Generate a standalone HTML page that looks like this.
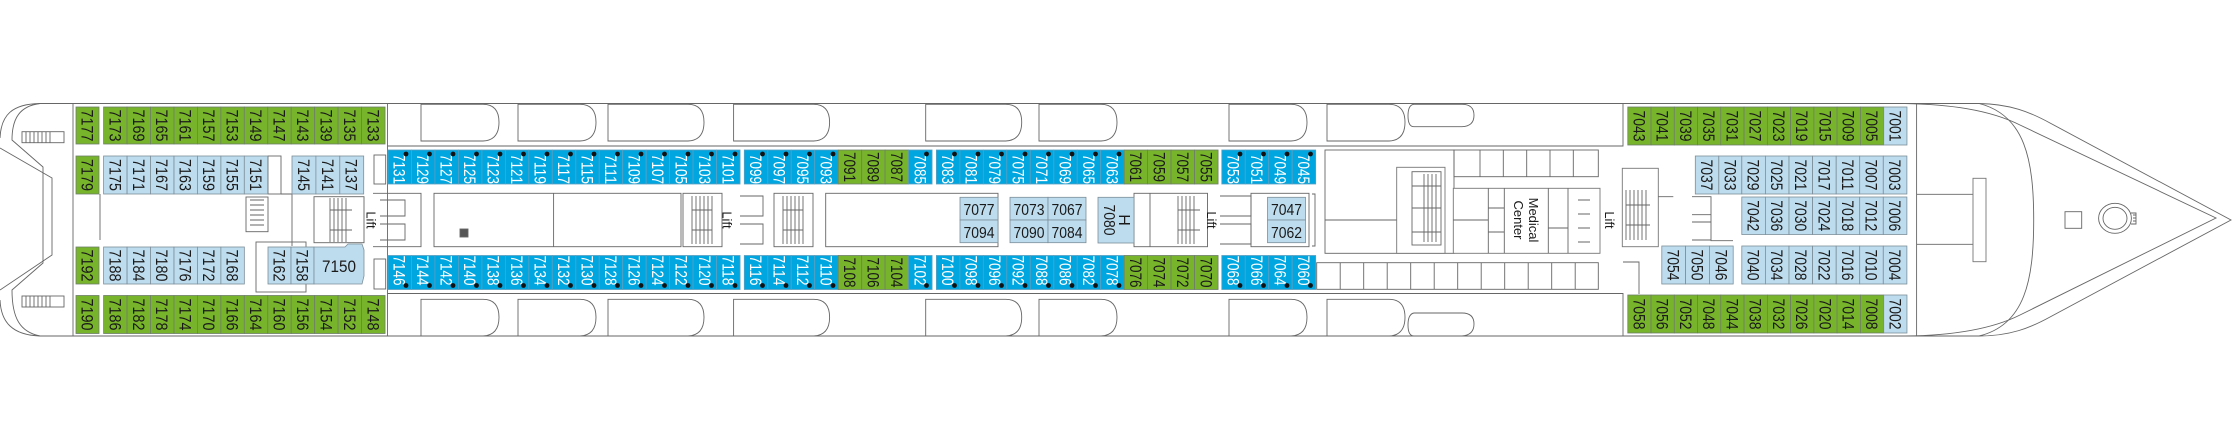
<!DOCTYPE html>
<html><head><meta charset="utf-8"><style>
html,body{margin:0;padding:0;background:#fff;}
svg{display:block;}
.g{fill:#78b42b;stroke:#6f7f6a;stroke-width:.8}
.l{fill:#bddcee;stroke:#7d8f9a;stroke-width:.8}
.b{fill:#00a6e0;stroke:#5a9fc0;stroke-width:.8}
.o{fill:none;stroke:#666;stroke-width:.9}
.f{fill:#fff;stroke:#777;stroke-width:.9}
text{font-family:"Liberation Sans",sans-serif;font-size:17px;text-anchor:middle;fill:#1a1a1a}
.w{fill:#fff}
.h{font-size:16px}
.s{font-size:13px}
</style></head><body>
<svg width="2232" height="440" viewBox="0 0 2232 440" xmlns="http://www.w3.org/2000/svg">
<path class="o" d="M40,103.5 L1979,103.5 M40,336 L1979,336"/>
<path class="o" d="M40,103.5 C12,104 1,115 0,138 M0,148 L52,178 L52,255 L0,290 M0,300 C1,322 12,335 40,336"/>
<path class="o" d="M40,103.5 C20,106 12,118 12,140 L43,167 L43,263 L12,290 C12,318 20,332 40,336"/>
<rect class="o" x="73" y="103.5" width="314.5" height="232.5"/>
<g class="o"><rect x="22" y="131.7" width="42" height="11"/><rect x="22" y="296" width="42" height="11"/>
<path d="M26,131.7v11M30,131.7v11M34,131.7v11M38,131.7v11M42,131.7v11M46,131.7v11M50,131.7v11M26,296v11M30,296v11M34,296v11M38,296v11M42,296v11M46,296v11M50,296v11"/></g>
<path class="o" d="M1916.6,103.5 L1979,103.5 C2010,104 2030,112 2050,123 L2231,220 L2050,317 C2030,328 2010,336 1979,336 L1916.6,336"/>
<path class="o" d="M1900,103.5 C1950,104 1990,110 2020,125 L2216,218 L2020,315 C1990,330 1950,336 1900,336"/>
<path class="o" d="M1979,103.5 C2025,115 2033.7,160 2033.7,220 C2033.7,280 2025,325 1979,336"/>
<path class="o" d="M1916.6,103.5 V336 M1916.6,194.3 H1979 M1916.6,244.3 H1979"/>
<rect class="f" x="1973" y="178.3" width="13" height="83.4"/>
<rect class="o" x="2065" y="211.7" width="16.7" height="16.6"/>
<ellipse class="o" cx="2115" cy="218.3" rx="16.4" ry="15"/><ellipse class="o" cx="2115" cy="218.3" rx="12" ry="11"/>
<path class="o" d="M2131,213h5v11h-5 M2133,215h3M2133,218h3M2133,221h3"/>
<path class="o" d="M387.5,146 H1623 V103.5 M387.5,293.5 H1623 V336"/>
<g class="o">
<path d="M421,104.3 h62 q16,0 16,18 q0,18 -16,18.7 h-62 z"/><path d="M518,104.3 h62 q16,0 16,18 q0,18 -16,18.7 h-62 z"/>
<path d="M608,104.3 h80 q16,0 16,18 q0,18 -16,18.7 h-80 z"/><path d="M733.6,104.3 h80 q16,0 16,18 q0,18 -16,18.7 h-80 z"/>
<path d="M925.7,104.3 h80 q16,0 16,18 q0,18 -16,18.7 h-80 z"/><path d="M1039,104.3 h62 q16,0 16,18 q0,18 -16,18.7 h-62 z"/>
<path d="M1229,104.3 h62 q16,0 16,18 q0,18 -16,18.7 h-62 z"/><path d="M1327,104.3 h62 q16,0 16,18 q0,18 -16,18.7 h-62 z"/>
<path d="M1414,104.3 h48 q12,0 12,11 q0,11 -12,11.4 h-48 q-6,0 -6,-11 q0,-11 6,-11.4 z"/>
<path d="M421,299.3 h62 q16,0 16,18 q0,18 -16,18.7 h-62 z"/><path d="M518,299.3 h62 q16,0 16,18 q0,18 -16,18.7 h-62 z"/>
<path d="M608,299.3 h80 q16,0 16,18 q0,18 -16,18.7 h-80 z"/><path d="M733.6,299.3 h80 q16,0 16,18 q0,18 -16,18.7 h-80 z"/>
<path d="M925.7,299.3 h80 q16,0 16,18 q0,18 -16,18.7 h-80 z"/><path d="M1039,299.3 h62 q16,0 16,18 q0,18 -16,18.7 h-62 z"/>
<path d="M1229,299.3 h62 q16,0 16,18 q0,18 -16,18.7 h-62 z"/><path d="M1327,299.3 h62 q16,0 16,18 q0,18 -16,18.7 h-62 z"/>
<path d="M1414,313 h48 q12,0 12,11 q0,11 -12,12 h-48 q-6,0 -6,-11 q0,-11 6,-12 z"/>
</g>
<g class="o">
<rect x="268" y="156" width="13" height="38"/>
<rect x="374" y="155" width="11.7" height="29"/><rect x="374" y="259" width="11.7" height="30"/>
<rect x="246" y="197" width="22" height="34.7"/>
<path d="M250,200h14M250,205h14M250,210h14M250,215h14M250,220h14M250,225h14"/>
<rect x="314" y="196.7" width="50" height="46"/>
<path d="M330,198v44M334,198v44M338,198v44M342,198v44M346,198v44M330,210h22M330,230h22"/>
<path d="M373,193.3 h48 v53.4 h-48 M380,200h25v16h-25M380,224h25v16h-25"/>
<path d="M100,194v46M292,194v52M281,194h11"/>
<rect x="434" y="193.3" width="247" height="53.4"/>
<path d="M553.6,193.3v53.4"/>
<rect x="460" y="229" width="8" height="8" fill="#555"/>
<rect x="683" y="193.3" width="39" height="53.4"/>
<path d="M692,196v48M696,196v48M700,196v48M704,196v48M708,196v48M712,196v48M692,210h20M692,230h20"/>
<path d="M740,196h23v20h-23M740,224h23v20h-23"/>
<rect x="774" y="193.3" width="39" height="53.4"/>
<path d="M783,196v48M787,196v48M791,196v48M795,196v48M799,196v48M803,196v48M783,210h20M783,230h20"/>
<rect x="825.7" y="193.3" width="172.3" height="53.4"/>
<rect x="1134" y="193.3" width="73.5" height="53.4"/>
<path d="M1178,196v48M1182,196v48M1186,196v48M1190,196v48M1194,196v48M1178,210h22M1178,230h22M1150,193.3v53.4"/>
<path d="M1220,196h31v20h-31M1220,224h31v20h-31"/>
<rect x="1251" y="193.3" width="58" height="53.4"/>
<path d="M1312,194h3v52h-3"/>
</g>
<g class="o">
<rect x="1325" y="150" width="129" height="103.3"/>
<path d="M1325,220h71.7"/>
<rect class="f" x="1396.7" y="167.3" width="48.3" height="86"/>
<rect x="1412" y="171.7" width="29" height="73.3"/>
<path d="M1424,174v68M1428,174v68M1432,174v68M1436,174v68M1412,186h29M1412,208h29M1412,232h29"/>
<rect x="1454" y="150" width="144.3" height="26.7"/>
<path d="M1480,150v26.7M1503.3,150v26.7M1526.7,150v26.7M1550,150v26.7M1573.3,150v26.7"/>
<rect class="f" x="1453.3" y="188.3" width="146.7" height="65"/>
<path d="M1488.3,188.3v65M1504.3,188.3v65M1548.3,188.3v65M1453.3,220h35M1488.3,208h16M1488.3,232h16M1548.3,228h20M1568,188.3v65"/>
<path d="M1578,200h12M1578,214h12M1578,228h12M1578,242h12"/>
<rect x="1316.7" y="262.7" width="281.6" height="26.6"/>
<path d="M1340.2,262.7v26.6M1363.7,262.7v26.6M1387.2,262.7v26.6M1410.7,262.7v26.6M1434.2,262.7v26.6M1457.7,262.7v26.6M1481.2,262.7v26.6M1504.7,262.7v26.6M1528.2,262.7v26.6M1551.7,262.7v26.6M1575.2,262.7v26.6"/>
<rect class="f" x="1622.3" y="168.3" width="36" height="78.4"/>
<path d="M1626,190v50M1630,190v50M1634,190v50M1638,190v50M1642,190v50M1646,190v50M1626,205h24M1626,225h24"/>
<path d="M1658.3,196.7h15M1692,196.7h19v18h-19M1692,222h19v18h-19M1711,196.7v44h22"/>
<path d="M1623,262h16v32"/>
</g>
<g>
<rect class="g" x="76" y="107" width="23" height="37"/><text transform="translate(87.5,125.5) rotate(90)" y="6" textLength="32" lengthAdjust="spacingAndGlyphs">7177</text>
<rect class="g" x="103.6" y="107" width="23.45" height="37"/><text transform="translate(115.3,125.5) rotate(90)" y="6" textLength="32" lengthAdjust="spacingAndGlyphs">7173</text>
<rect class="g" x="127.1" y="107" width="23.45" height="37"/><text transform="translate(138.8,125.5) rotate(90)" y="6" textLength="32" lengthAdjust="spacingAndGlyphs">7169</text>
<rect class="g" x="150.5" y="107" width="23.45" height="37"/><text transform="translate(162.2,125.5) rotate(90)" y="6" textLength="32" lengthAdjust="spacingAndGlyphs">7165</text>
<rect class="g" x="174" y="107" width="23.45" height="37"/><text transform="translate(185.7,125.5) rotate(90)" y="6" textLength="32" lengthAdjust="spacingAndGlyphs">7161</text>
<rect class="g" x="197.4" y="107" width="23.45" height="37"/><text transform="translate(209.1,125.5) rotate(90)" y="6" textLength="32" lengthAdjust="spacingAndGlyphs">7157</text>
<rect class="g" x="220.9" y="107" width="23.45" height="37"/><text transform="translate(232.6,125.5) rotate(90)" y="6" textLength="32" lengthAdjust="spacingAndGlyphs">7153</text>
<rect class="g" x="244.3" y="107" width="23.45" height="37"/><text transform="translate(256,125.5) rotate(90)" y="6" textLength="32" lengthAdjust="spacingAndGlyphs">7149</text>
<rect class="g" x="267.8" y="107" width="23.45" height="37"/><text transform="translate(279.5,125.5) rotate(90)" y="6" textLength="32" lengthAdjust="spacingAndGlyphs">7147</text>
<rect class="g" x="291.2" y="107" width="23.45" height="37"/><text transform="translate(302.9,125.5) rotate(90)" y="6" textLength="32" lengthAdjust="spacingAndGlyphs">7143</text>
<rect class="g" x="314.7" y="107" width="23.45" height="37"/><text transform="translate(326.4,125.5) rotate(90)" y="6" textLength="32" lengthAdjust="spacingAndGlyphs">7139</text>
<rect class="g" x="338.1" y="107" width="23.45" height="37"/><text transform="translate(349.8,125.5) rotate(90)" y="6" textLength="32" lengthAdjust="spacingAndGlyphs">7135</text>
<rect class="g" x="361.6" y="107" width="23.45" height="37"/><text transform="translate(373.3,125.5) rotate(90)" y="6" textLength="32" lengthAdjust="spacingAndGlyphs">7133</text>

<rect class="g" x="76" y="156" width="23" height="38"/><text transform="translate(87.5,175) rotate(90)" y="6" textLength="32" lengthAdjust="spacingAndGlyphs">7179</text>
<rect class="l" x="103.6" y="156" width="23.45" height="38"/><text transform="translate(115.3,175) rotate(90)" y="6" textLength="32" lengthAdjust="spacingAndGlyphs">7175</text>
<rect class="l" x="127.1" y="156" width="23.45" height="38"/><text transform="translate(138.8,175) rotate(90)" y="6" textLength="32" lengthAdjust="spacingAndGlyphs">7171</text>
<rect class="l" x="150.5" y="156" width="23.45" height="38"/><text transform="translate(162.2,175) rotate(90)" y="6" textLength="32" lengthAdjust="spacingAndGlyphs">7167</text>
<rect class="l" x="174" y="156" width="23.45" height="38"/><text transform="translate(185.7,175) rotate(90)" y="6" textLength="32" lengthAdjust="spacingAndGlyphs">7163</text>
<rect class="l" x="197.4" y="156" width="23.45" height="38"/><text transform="translate(209.1,175) rotate(90)" y="6" textLength="32" lengthAdjust="spacingAndGlyphs">7159</text>
<rect class="l" x="220.9" y="156" width="23.45" height="38"/><text transform="translate(232.6,175) rotate(90)" y="6" textLength="32" lengthAdjust="spacingAndGlyphs">7155</text>
<rect class="l" x="244.3" y="156" width="23.45" height="38"/><text transform="translate(256,175) rotate(90)" y="6" textLength="32" lengthAdjust="spacingAndGlyphs">7151</text>
<rect class="l" x="292" y="156" width="23.9" height="38"/><text transform="translate(304,175) rotate(90)" y="6" textLength="32" lengthAdjust="spacingAndGlyphs">7145</text>
<rect class="l" x="315.9" y="156" width="23.9" height="38"/><text transform="translate(327.9,175) rotate(90)" y="6" textLength="32" lengthAdjust="spacingAndGlyphs">7141</text>
<rect class="l" x="339.8" y="156" width="23.9" height="38"/><text transform="translate(351.7,175) rotate(90)" y="6" textLength="32" lengthAdjust="spacingAndGlyphs">7137</text>

<rect class="g" x="76" y="247" width="23" height="37"/><text transform="translate(87.5,265.5) rotate(90)" y="6" textLength="32" lengthAdjust="spacingAndGlyphs">7192</text>
<rect class="l" x="103.6" y="247" width="23.45" height="37"/><text transform="translate(115.3,265.5) rotate(90)" y="6" textLength="32" lengthAdjust="spacingAndGlyphs">7188</text>
<rect class="l" x="127.1" y="247" width="23.45" height="37"/><text transform="translate(138.8,265.5) rotate(90)" y="6" textLength="32" lengthAdjust="spacingAndGlyphs">7184</text>
<rect class="l" x="150.5" y="247" width="23.45" height="37"/><text transform="translate(162.2,265.5) rotate(90)" y="6" textLength="32" lengthAdjust="spacingAndGlyphs">7180</text>
<rect class="l" x="174" y="247" width="23.45" height="37"/><text transform="translate(185.7,265.5) rotate(90)" y="6" textLength="32" lengthAdjust="spacingAndGlyphs">7176</text>
<rect class="l" x="197.4" y="247" width="23.45" height="37"/><text transform="translate(209.1,265.5) rotate(90)" y="6" textLength="32" lengthAdjust="spacingAndGlyphs">7172</text>
<rect class="l" x="220.9" y="247" width="23.45" height="37"/><text transform="translate(232.6,265.5) rotate(90)" y="6" textLength="32" lengthAdjust="spacingAndGlyphs">7168</text>
<rect class="o" x="256" y="242" width="50" height="50"/>
<rect class="l" x="268" y="247" width="23" height="37"/><text transform="translate(279.5,265.5) rotate(90)" y="6" textLength="32" lengthAdjust="spacingAndGlyphs">7162</text>
<rect class="l" x="291" y="247" width="23" height="37"/><text transform="translate(302.5,265.5) rotate(90)" y="6" textLength="32" lengthAdjust="spacingAndGlyphs">7158</text>
<path class="l" d="M314,247 H345 L348,244 H362 L364,250 V276 L362,284 H314 Z"/><text x="339" y="272" textLength="34" lengthAdjust="spacingAndGlyphs">7150</text>

<rect class="g" x="76" y="295.5" width="23" height="38"/><text transform="translate(87.5,314.5) rotate(90)" y="6" textLength="32" lengthAdjust="spacingAndGlyphs">7190</text>
<rect class="g" x="103.6" y="295.5" width="23.45" height="38"/><text transform="translate(115.3,314.5) rotate(90)" y="6" textLength="32" lengthAdjust="spacingAndGlyphs">7186</text>
<rect class="g" x="127.1" y="295.5" width="23.45" height="38"/><text transform="translate(138.8,314.5) rotate(90)" y="6" textLength="32" lengthAdjust="spacingAndGlyphs">7182</text>
<rect class="g" x="150.5" y="295.5" width="23.45" height="38"/><text transform="translate(162.2,314.5) rotate(90)" y="6" textLength="32" lengthAdjust="spacingAndGlyphs">7178</text>
<rect class="g" x="174" y="295.5" width="23.45" height="38"/><text transform="translate(185.7,314.5) rotate(90)" y="6" textLength="32" lengthAdjust="spacingAndGlyphs">7174</text>
<rect class="g" x="197.4" y="295.5" width="23.45" height="38"/><text transform="translate(209.1,314.5) rotate(90)" y="6" textLength="32" lengthAdjust="spacingAndGlyphs">7170</text>
<rect class="g" x="220.9" y="295.5" width="23.45" height="38"/><text transform="translate(232.6,314.5) rotate(90)" y="6" textLength="32" lengthAdjust="spacingAndGlyphs">7166</text>
<rect class="g" x="244.3" y="295.5" width="23.45" height="38"/><text transform="translate(256,314.5) rotate(90)" y="6" textLength="32" lengthAdjust="spacingAndGlyphs">7164</text>
<rect class="g" x="267.8" y="295.5" width="23.45" height="38"/><text transform="translate(279.5,314.5) rotate(90)" y="6" textLength="32" lengthAdjust="spacingAndGlyphs">7160</text>
<rect class="g" x="291.2" y="295.5" width="23.45" height="38"/><text transform="translate(302.9,314.5) rotate(90)" y="6" textLength="32" lengthAdjust="spacingAndGlyphs">7156</text>
<rect class="g" x="314.7" y="295.5" width="23.45" height="38"/><text transform="translate(326.4,314.5) rotate(90)" y="6" textLength="32" lengthAdjust="spacingAndGlyphs">7154</text>
<rect class="g" x="338.1" y="295.5" width="23.45" height="38"/><text transform="translate(349.8,314.5) rotate(90)" y="6" textLength="32" lengthAdjust="spacingAndGlyphs">7152</text>
<rect class="g" x="361.6" y="295.5" width="23.45" height="38"/><text transform="translate(373.3,314.5) rotate(90)" y="6" textLength="32" lengthAdjust="spacingAndGlyphs">7148</text>
</g>
<text transform="translate(371.4,220) rotate(90)" y="5" class="s">Lift</text>
<text transform="translate(727.5,220) rotate(90)" y="5" class="s">Lift</text>
<text transform="translate(1212,220) rotate(90)" y="5" class="s">Lift</text>
<text transform="translate(1610,220) rotate(90)" y="5" class="s">Lift</text>
<text transform="translate(1526,220) rotate(90)" class="s"><tspan x="0" y="-3">Medical</tspan><tspan x="0" y="12">Center</tspan></text>

<g>
<rect class="b" x="388" y="150" width="23.47" height="34"/><text class="w" transform="translate(399.7,169) rotate(90)" y="6" textLength="30" lengthAdjust="spacingAndGlyphs">7131</text>
<rect class="b" x="411.5" y="150" width="23.47" height="34"/><text class="w" transform="translate(423.2,169) rotate(90)" y="6" textLength="30" lengthAdjust="spacingAndGlyphs">7129</text>
<rect class="b" x="434.9" y="150" width="23.47" height="34"/><text class="w" transform="translate(446.6,169) rotate(90)" y="6" textLength="30" lengthAdjust="spacingAndGlyphs">7127</text>
<rect class="b" x="458.4" y="150" width="23.47" height="34"/><text class="w" transform="translate(470.1,169) rotate(90)" y="6" textLength="30" lengthAdjust="spacingAndGlyphs">7125</text>
<rect class="b" x="481.9" y="150" width="23.47" height="34"/><text class="w" transform="translate(493.6,169) rotate(90)" y="6" textLength="30" lengthAdjust="spacingAndGlyphs">7123</text>
<rect class="b" x="505.4" y="150" width="23.47" height="34"/><text class="w" transform="translate(517.1,169) rotate(90)" y="6" textLength="30" lengthAdjust="spacingAndGlyphs">7121</text>
<rect class="b" x="528.8" y="150" width="23.47" height="34"/><text class="w" transform="translate(540.5,169) rotate(90)" y="6" textLength="30" lengthAdjust="spacingAndGlyphs">7119</text>
<rect class="b" x="552.3" y="150" width="23.47" height="34"/><text class="w" transform="translate(564,169) rotate(90)" y="6" textLength="30" lengthAdjust="spacingAndGlyphs">7117</text>
<rect class="b" x="575.8" y="150" width="23.47" height="34"/><text class="w" transform="translate(587.5,169) rotate(90)" y="6" textLength="30" lengthAdjust="spacingAndGlyphs">7115</text>
<rect class="b" x="599.2" y="150" width="23.47" height="34"/><text class="w" transform="translate(610.9,169) rotate(90)" y="6" textLength="30" lengthAdjust="spacingAndGlyphs">7111</text>
<rect class="b" x="622.7" y="150" width="23.47" height="34"/><text class="w" transform="translate(634.4,169) rotate(90)" y="6" textLength="30" lengthAdjust="spacingAndGlyphs">7109</text>
<rect class="b" x="646.2" y="150" width="23.47" height="34"/><text class="w" transform="translate(657.9,169) rotate(90)" y="6" textLength="30" lengthAdjust="spacingAndGlyphs">7107</text>
<rect class="b" x="669.6" y="150" width="23.47" height="34"/><text class="w" transform="translate(681.3,169) rotate(90)" y="6" textLength="30" lengthAdjust="spacingAndGlyphs">7105</text>
<rect class="b" x="693.1" y="150" width="23.47" height="34"/><text class="w" transform="translate(704.8,169) rotate(90)" y="6" textLength="30" lengthAdjust="spacingAndGlyphs">7103</text>
<rect class="b" x="716.6" y="150" width="23.47" height="34"/><text class="w" transform="translate(728.3,169) rotate(90)" y="6" textLength="30" lengthAdjust="spacingAndGlyphs">7101</text>
<rect class="b" x="744.3" y="150" width="23.47" height="34"/><text class="w" transform="translate(756,169) rotate(90)" y="6" textLength="30" lengthAdjust="spacingAndGlyphs">7099</text>
<rect class="b" x="767.8" y="150" width="23.47" height="34"/><text class="w" transform="translate(779.5,169) rotate(90)" y="6" textLength="30" lengthAdjust="spacingAndGlyphs">7097</text>
<rect class="b" x="791.2" y="150" width="23.47" height="34"/><text class="w" transform="translate(802.9,169) rotate(90)" y="6" textLength="30" lengthAdjust="spacingAndGlyphs">7095</text>
<rect class="b" x="814.7" y="150" width="23.47" height="34"/><text class="w" transform="translate(826.4,169) rotate(90)" y="6" textLength="30" lengthAdjust="spacingAndGlyphs">7093</text>
<rect class="g" x="838.2" y="150" width="23.47" height="34"/><text transform="translate(849.9,167) rotate(90)" y="6" textLength="30" lengthAdjust="spacingAndGlyphs">7091</text>
<rect class="g" x="861.7" y="150" width="23.47" height="34"/><text transform="translate(873.4,167) rotate(90)" y="6" textLength="30" lengthAdjust="spacingAndGlyphs">7089</text>
<rect class="g" x="885.1" y="150" width="23.47" height="34"/><text transform="translate(896.8,167) rotate(90)" y="6" textLength="30" lengthAdjust="spacingAndGlyphs">7087</text>
<rect class="b" x="908.6" y="150" width="23.47" height="34"/><text class="w" transform="translate(920.3,169) rotate(90)" y="6" textLength="30" lengthAdjust="spacingAndGlyphs">7085</text>
<rect class="b" x="936.4" y="150" width="23.47" height="34"/><text class="w" transform="translate(948.1,169) rotate(90)" y="6" textLength="30" lengthAdjust="spacingAndGlyphs">7083</text>
<rect class="b" x="959.9" y="150" width="23.47" height="34"/><text class="w" transform="translate(971.6,169) rotate(90)" y="6" textLength="30" lengthAdjust="spacingAndGlyphs">7081</text>
<rect class="b" x="983.3" y="150" width="23.47" height="34"/><text class="w" transform="translate(995,169) rotate(90)" y="6" textLength="30" lengthAdjust="spacingAndGlyphs">7079</text>
<rect class="b" x="1006.8" y="150" width="23.47" height="34"/><text class="w" transform="translate(1018.5,169) rotate(90)" y="6" textLength="30" lengthAdjust="spacingAndGlyphs">7075</text>
<rect class="b" x="1030.3" y="150" width="23.47" height="34"/><text class="w" transform="translate(1042,169) rotate(90)" y="6" textLength="30" lengthAdjust="spacingAndGlyphs">7071</text>
<rect class="b" x="1053.8" y="150" width="23.47" height="34"/><text class="w" transform="translate(1065.5,169) rotate(90)" y="6" textLength="30" lengthAdjust="spacingAndGlyphs">7069</text>
<rect class="b" x="1077.2" y="150" width="23.47" height="34"/><text class="w" transform="translate(1088.9,169) rotate(90)" y="6" textLength="30" lengthAdjust="spacingAndGlyphs">7065</text>
<rect class="b" x="1100.7" y="150" width="23.47" height="34"/><text class="w" transform="translate(1112.4,169) rotate(90)" y="6" textLength="30" lengthAdjust="spacingAndGlyphs">7063</text>
<rect class="g" x="1124.2" y="150" width="23.47" height="34"/><text transform="translate(1135.9,167) rotate(90)" y="6" textLength="30" lengthAdjust="spacingAndGlyphs">7061</text>
<rect class="g" x="1147.6" y="150" width="23.47" height="34"/><text transform="translate(1159.3,167) rotate(90)" y="6" textLength="30" lengthAdjust="spacingAndGlyphs">7059</text>
<rect class="g" x="1171.1" y="150" width="23.47" height="34"/><text transform="translate(1182.8,167) rotate(90)" y="6" textLength="30" lengthAdjust="spacingAndGlyphs">7057</text>
<rect class="g" x="1194.6" y="150" width="23.47" height="34"/><text transform="translate(1206.3,167) rotate(90)" y="6" textLength="30" lengthAdjust="spacingAndGlyphs">7055</text>
<rect class="b" x="1221.8" y="150" width="23.47" height="34"/><text class="w" transform="translate(1233.5,169) rotate(90)" y="6" textLength="30" lengthAdjust="spacingAndGlyphs">7053</text>
<rect class="b" x="1245.3" y="150" width="23.47" height="34"/><text class="w" transform="translate(1257,169) rotate(90)" y="6" textLength="30" lengthAdjust="spacingAndGlyphs">7051</text>
<rect class="b" x="1268.7" y="150" width="23.47" height="34"/><text class="w" transform="translate(1280.4,169) rotate(90)" y="6" textLength="30" lengthAdjust="spacingAndGlyphs">7049</text>
<rect class="b" x="1292.2" y="150" width="23.47" height="34"/><text class="w" transform="translate(1303.9,169) rotate(90)" y="6" textLength="30" lengthAdjust="spacingAndGlyphs">7045</text>
</g>
<g>
<rect class="b" x="388" y="255.5" width="23.47" height="34"/><text class="w" transform="translate(399.7,270.5) rotate(90)" y="6" textLength="30" lengthAdjust="spacingAndGlyphs">7146</text>
<rect class="b" x="411.5" y="255.5" width="23.47" height="34"/><text class="w" transform="translate(423.2,270.5) rotate(90)" y="6" textLength="30" lengthAdjust="spacingAndGlyphs">7144</text>
<rect class="b" x="434.9" y="255.5" width="23.47" height="34"/><text class="w" transform="translate(446.6,270.5) rotate(90)" y="6" textLength="30" lengthAdjust="spacingAndGlyphs">7142</text>
<rect class="b" x="458.4" y="255.5" width="23.47" height="34"/><text class="w" transform="translate(470.1,270.5) rotate(90)" y="6" textLength="30" lengthAdjust="spacingAndGlyphs">7140</text>
<rect class="b" x="481.9" y="255.5" width="23.47" height="34"/><text class="w" transform="translate(493.6,270.5) rotate(90)" y="6" textLength="30" lengthAdjust="spacingAndGlyphs">7138</text>
<rect class="b" x="505.4" y="255.5" width="23.47" height="34"/><text class="w" transform="translate(517.1,270.5) rotate(90)" y="6" textLength="30" lengthAdjust="spacingAndGlyphs">7136</text>
<rect class="b" x="528.8" y="255.5" width="23.47" height="34"/><text class="w" transform="translate(540.5,270.5) rotate(90)" y="6" textLength="30" lengthAdjust="spacingAndGlyphs">7134</text>
<rect class="b" x="552.3" y="255.5" width="23.47" height="34"/><text class="w" transform="translate(564,270.5) rotate(90)" y="6" textLength="30" lengthAdjust="spacingAndGlyphs">7132</text>
<rect class="b" x="575.8" y="255.5" width="23.47" height="34"/><text class="w" transform="translate(587.5,270.5) rotate(90)" y="6" textLength="30" lengthAdjust="spacingAndGlyphs">7130</text>
<rect class="b" x="599.2" y="255.5" width="23.47" height="34"/><text class="w" transform="translate(610.9,270.5) rotate(90)" y="6" textLength="30" lengthAdjust="spacingAndGlyphs">7128</text>
<rect class="b" x="622.7" y="255.5" width="23.47" height="34"/><text class="w" transform="translate(634.4,270.5) rotate(90)" y="6" textLength="30" lengthAdjust="spacingAndGlyphs">7126</text>
<rect class="b" x="646.2" y="255.5" width="23.47" height="34"/><text class="w" transform="translate(657.9,270.5) rotate(90)" y="6" textLength="30" lengthAdjust="spacingAndGlyphs">7124</text>
<rect class="b" x="669.6" y="255.5" width="23.47" height="34"/><text class="w" transform="translate(681.3,270.5) rotate(90)" y="6" textLength="30" lengthAdjust="spacingAndGlyphs">7122</text>
<rect class="b" x="693.1" y="255.5" width="23.47" height="34"/><text class="w" transform="translate(704.8,270.5) rotate(90)" y="6" textLength="30" lengthAdjust="spacingAndGlyphs">7120</text>
<rect class="b" x="716.6" y="255.5" width="23.47" height="34"/><text class="w" transform="translate(728.3,270.5) rotate(90)" y="6" textLength="30" lengthAdjust="spacingAndGlyphs">7118</text>
<rect class="b" x="744.3" y="255.5" width="23.47" height="34"/><text class="w" transform="translate(756,270.5) rotate(90)" y="6" textLength="30" lengthAdjust="spacingAndGlyphs">7116</text>
<rect class="b" x="767.8" y="255.5" width="23.47" height="34"/><text class="w" transform="translate(779.5,270.5) rotate(90)" y="6" textLength="30" lengthAdjust="spacingAndGlyphs">7114</text>
<rect class="b" x="791.2" y="255.5" width="23.47" height="34"/><text class="w" transform="translate(802.9,270.5) rotate(90)" y="6" textLength="30" lengthAdjust="spacingAndGlyphs">7112</text>
<rect class="b" x="814.7" y="255.5" width="23.47" height="34"/><text class="w" transform="translate(826.4,270.5) rotate(90)" y="6" textLength="30" lengthAdjust="spacingAndGlyphs">7110</text>
<rect class="g" x="838.2" y="255.5" width="23.47" height="34"/><text transform="translate(849.9,272.5) rotate(90)" y="6" textLength="30" lengthAdjust="spacingAndGlyphs">7108</text>
<rect class="g" x="861.7" y="255.5" width="23.47" height="34"/><text transform="translate(873.4,272.5) rotate(90)" y="6" textLength="30" lengthAdjust="spacingAndGlyphs">7106</text>
<rect class="g" x="885.1" y="255.5" width="23.47" height="34"/><text transform="translate(896.8,272.5) rotate(90)" y="6" textLength="30" lengthAdjust="spacingAndGlyphs">7104</text>
<rect class="b" x="908.6" y="255.5" width="23.47" height="34"/><text class="w" transform="translate(920.3,270.5) rotate(90)" y="6" textLength="30" lengthAdjust="spacingAndGlyphs">7102</text>
<rect class="b" x="936.4" y="255.5" width="23.47" height="34"/><text class="w" transform="translate(948.1,270.5) rotate(90)" y="6" textLength="30" lengthAdjust="spacingAndGlyphs">7100</text>
<rect class="b" x="959.9" y="255.5" width="23.47" height="34"/><text class="w" transform="translate(971.6,270.5) rotate(90)" y="6" textLength="30" lengthAdjust="spacingAndGlyphs">7098</text>
<rect class="b" x="983.3" y="255.5" width="23.47" height="34"/><text class="w" transform="translate(995,270.5) rotate(90)" y="6" textLength="30" lengthAdjust="spacingAndGlyphs">7096</text>
<rect class="b" x="1006.8" y="255.5" width="23.47" height="34"/><text class="w" transform="translate(1018.5,270.5) rotate(90)" y="6" textLength="30" lengthAdjust="spacingAndGlyphs">7092</text>
<rect class="b" x="1030.3" y="255.5" width="23.47" height="34"/><text class="w" transform="translate(1042,270.5) rotate(90)" y="6" textLength="30" lengthAdjust="spacingAndGlyphs">7088</text>
<rect class="b" x="1053.8" y="255.5" width="23.47" height="34"/><text class="w" transform="translate(1065.5,270.5) rotate(90)" y="6" textLength="30" lengthAdjust="spacingAndGlyphs">7086</text>
<rect class="b" x="1077.2" y="255.5" width="23.47" height="34"/><text class="w" transform="translate(1088.9,270.5) rotate(90)" y="6" textLength="30" lengthAdjust="spacingAndGlyphs">7082</text>
<rect class="b" x="1100.7" y="255.5" width="23.47" height="34"/><text class="w" transform="translate(1112.4,270.5) rotate(90)" y="6" textLength="30" lengthAdjust="spacingAndGlyphs">7078</text>
<rect class="g" x="1124.2" y="255.5" width="23.47" height="34"/><text transform="translate(1135.9,272.5) rotate(90)" y="6" textLength="30" lengthAdjust="spacingAndGlyphs">7076</text>
<rect class="g" x="1147.6" y="255.5" width="23.47" height="34"/><text transform="translate(1159.3,272.5) rotate(90)" y="6" textLength="30" lengthAdjust="spacingAndGlyphs">7074</text>
<rect class="g" x="1171.1" y="255.5" width="23.47" height="34"/><text transform="translate(1182.8,272.5) rotate(90)" y="6" textLength="30" lengthAdjust="spacingAndGlyphs">7072</text>
<rect class="g" x="1194.6" y="255.5" width="23.47" height="34"/><text transform="translate(1206.3,272.5) rotate(90)" y="6" textLength="30" lengthAdjust="spacingAndGlyphs">7070</text>
<rect class="b" x="1221.8" y="255.5" width="23.47" height="34"/><text class="w" transform="translate(1233.5,270.5) rotate(90)" y="6" textLength="30" lengthAdjust="spacingAndGlyphs">7068</text>
<rect class="b" x="1245.3" y="255.5" width="23.47" height="34"/><text class="w" transform="translate(1257,270.5) rotate(90)" y="6" textLength="30" lengthAdjust="spacingAndGlyphs">7066</text>
<rect class="b" x="1268.7" y="255.5" width="23.47" height="34"/><text class="w" transform="translate(1280.4,270.5) rotate(90)" y="6" textLength="30" lengthAdjust="spacingAndGlyphs">7064</text>
<rect class="b" x="1292.2" y="255.5" width="23.47" height="34"/><text class="w" transform="translate(1303.9,270.5) rotate(90)" y="6" textLength="30" lengthAdjust="spacingAndGlyphs">7060</text>
</g>
<g fill="#111">
<circle cx="406" cy="154" r="2.4"/><circle cx="429.5" cy="154" r="2.4"/><circle cx="453" cy="154" r="2.4"/><circle cx="476.5" cy="154" r="2.4"/><circle cx="500" cy="154" r="2.4"/><circle cx="523.5" cy="154" r="2.4"/><circle cx="547" cy="154" r="2.4"/><circle cx="570.5" cy="154" r="2.4"/><circle cx="594" cy="154" r="2.4"/><circle cx="617.5" cy="154" r="2.4"/><circle cx="641" cy="154" r="2.4"/><circle cx="664.5" cy="154" r="2.4"/><circle cx="688" cy="154" r="2.4"/><circle cx="711.5" cy="154" r="2.4"/><circle cx="735" cy="154" r="2.4"/>
<circle cx="762.5" cy="154" r="2.4"/><circle cx="786" cy="154" r="2.4"/><circle cx="809.5" cy="154" r="2.4"/><circle cx="833" cy="154" r="2.4"/><circle cx="926.5" cy="154" r="2.4"/>
<circle cx="954.5" cy="154" r="2.4"/><circle cx="978" cy="154" r="2.4"/><circle cx="1001.5" cy="154" r="2.4"/><circle cx="1025" cy="154" r="2.4"/><circle cx="1048.5" cy="154" r="2.4"/><circle cx="1072" cy="154" r="2.4"/><circle cx="1095.5" cy="154" r="2.4"/><circle cx="1119" cy="154" r="2.4"/>
<circle cx="1240" cy="154" r="2.4"/><circle cx="1263.5" cy="154" r="2.4"/><circle cx="1287" cy="154" r="2.4"/><circle cx="1310.5" cy="154" r="2.4"/>
<circle cx="406" cy="285.5" r="2.4"/><circle cx="429.5" cy="285.5" r="2.4"/><circle cx="453" cy="285.5" r="2.4"/><circle cx="476.5" cy="285.5" r="2.4"/><circle cx="500" cy="285.5" r="2.4"/><circle cx="523.5" cy="285.5" r="2.4"/><circle cx="547" cy="285.5" r="2.4"/><circle cx="570.5" cy="285.5" r="2.4"/><circle cx="594" cy="285.5" r="2.4"/><circle cx="617.5" cy="285.5" r="2.4"/><circle cx="641" cy="285.5" r="2.4"/><circle cx="664.5" cy="285.5" r="2.4"/><circle cx="688" cy="285.5" r="2.4"/><circle cx="711.5" cy="285.5" r="2.4"/><circle cx="735" cy="285.5" r="2.4"/>
<circle cx="762.5" cy="285.5" r="2.4"/><circle cx="786" cy="285.5" r="2.4"/><circle cx="809.5" cy="285.5" r="2.4"/><circle cx="833" cy="285.5" r="2.4"/><circle cx="926.5" cy="285.5" r="2.4"/>
<circle cx="954.5" cy="285.5" r="2.4"/><circle cx="978" cy="285.5" r="2.4"/><circle cx="1001.5" cy="285.5" r="2.4"/><circle cx="1025" cy="285.5" r="2.4"/><circle cx="1048.5" cy="285.5" r="2.4"/><circle cx="1072" cy="285.5" r="2.4"/><circle cx="1095.5" cy="285.5" r="2.4"/><circle cx="1119" cy="285.5" r="2.4"/>
<circle cx="1240" cy="285.5" r="2.4"/><circle cx="1263.5" cy="285.5" r="2.4"/><circle cx="1287" cy="285.5" r="2.4"/><circle cx="1310.5" cy="285.5" r="2.4"/>
</g>
<g>
<rect class="l" x="960" y="197.3" width="38" height="22.7"/><text class="h" x="979" y="215" textLength="31" lengthAdjust="spacingAndGlyphs">7077</text>
<rect class="l" x="960" y="220" width="38" height="22.7"/><text class="h" x="979" y="238" textLength="31" lengthAdjust="spacingAndGlyphs">7094</text>
<rect class="l" x="1010" y="197.3" width="38" height="22.7"/><text class="h" x="1029" y="215" textLength="31" lengthAdjust="spacingAndGlyphs">7073</text>
<rect class="l" x="1048" y="197.3" width="38" height="22.7"/><text class="h" x="1067" y="215" textLength="31" lengthAdjust="spacingAndGlyphs">7067</text>
<rect class="l" x="1010" y="220" width="38" height="22.7"/><text class="h" x="1029" y="238" textLength="31" lengthAdjust="spacingAndGlyphs">7090</text>
<rect class="l" x="1048" y="220" width="38" height="22.7"/><text class="h" x="1067" y="238" textLength="31" lengthAdjust="spacingAndGlyphs">7084</text>
<rect class="l" x="1098" y="197.3" width="36" height="45.7"/>
<text transform="translate(1116,220) rotate(90)" class="h"><tspan x="0" y="-3">H</tspan></text>
<text transform="translate(1116,220) rotate(90)" class="h" y="12" textLength="31" lengthAdjust="spacingAndGlyphs">7080</text>
<rect class="l" x="1267.5" y="197.3" width="38" height="22.7"/><text class="h" x="1286.5" y="215" textLength="31" lengthAdjust="spacingAndGlyphs">7047</text>
<rect class="l" x="1267.5" y="220" width="38" height="22.7"/><text class="h" x="1286.5" y="238" textLength="31" lengthAdjust="spacingAndGlyphs">7062</text>
</g>
<g>
<rect class="g" x="1627.8" y="107" width="23.26" height="38"/><text transform="translate(1639.4,126) rotate(90)" y="6" textLength="31" lengthAdjust="spacingAndGlyphs">7043</text>
<rect class="g" x="1651.1" y="107" width="23.26" height="38"/><text transform="translate(1662.7,126) rotate(90)" y="6" textLength="31" lengthAdjust="spacingAndGlyphs">7041</text>
<rect class="g" x="1674.3" y="107" width="23.26" height="38"/><text transform="translate(1685.9,126) rotate(90)" y="6" textLength="31" lengthAdjust="spacingAndGlyphs">7039</text>
<rect class="g" x="1697.6" y="107" width="23.26" height="38"/><text transform="translate(1709.2,126) rotate(90)" y="6" textLength="31" lengthAdjust="spacingAndGlyphs">7035</text>
<rect class="g" x="1720.8" y="107" width="23.26" height="38"/><text transform="translate(1732.4,126) rotate(90)" y="6" textLength="31" lengthAdjust="spacingAndGlyphs">7031</text>
<rect class="g" x="1744.1" y="107" width="23.26" height="38"/><text transform="translate(1755.7,126) rotate(90)" y="6" textLength="31" lengthAdjust="spacingAndGlyphs">7027</text>
<rect class="g" x="1767.4" y="107" width="23.26" height="38"/><text transform="translate(1779,126) rotate(90)" y="6" textLength="31" lengthAdjust="spacingAndGlyphs">7023</text>
<rect class="g" x="1790.6" y="107" width="23.26" height="38"/><text transform="translate(1802.2,126) rotate(90)" y="6" textLength="31" lengthAdjust="spacingAndGlyphs">7019</text>
<rect class="g" x="1813.9" y="107" width="23.26" height="38"/><text transform="translate(1825.5,126) rotate(90)" y="6" textLength="31" lengthAdjust="spacingAndGlyphs">7015</text>
<rect class="g" x="1837.1" y="107" width="23.26" height="38"/><text transform="translate(1848.7,126) rotate(90)" y="6" textLength="31" lengthAdjust="spacingAndGlyphs">7009</text>
<rect class="g" x="1860.4" y="107" width="23.26" height="38"/><text transform="translate(1872,126) rotate(90)" y="6" textLength="31" lengthAdjust="spacingAndGlyphs">7005</text>
<rect class="l" x="1883.7" y="107" width="23.26" height="38"/><text transform="translate(1895.3,126) rotate(90)" y="6" textLength="31" lengthAdjust="spacingAndGlyphs">7001</text>

<rect class="l" x="1695.3" y="156" width="23.5" height="38"/><text transform="translate(1707,175) rotate(90)" y="6" textLength="31" lengthAdjust="spacingAndGlyphs">7037</text>
<rect class="l" x="1718.8" y="156" width="23" height="38"/><text transform="translate(1730.3,175) rotate(90)" y="6" textLength="31" lengthAdjust="spacingAndGlyphs">7033</text>
<rect class="l" x="1741.8" y="156" width="23.59" height="38"/><text transform="translate(1753.6,175) rotate(90)" y="6" textLength="31" lengthAdjust="spacingAndGlyphs">7029</text>
<rect class="l" x="1765.4" y="156" width="23.59" height="38"/><text transform="translate(1777.2,175) rotate(90)" y="6" textLength="31" lengthAdjust="spacingAndGlyphs">7025</text>
<rect class="l" x="1789" y="156" width="23.59" height="38"/><text transform="translate(1800.8,175) rotate(90)" y="6" textLength="31" lengthAdjust="spacingAndGlyphs">7021</text>
<rect class="l" x="1812.6" y="156" width="23.59" height="38"/><text transform="translate(1824.4,175) rotate(90)" y="6" textLength="31" lengthAdjust="spacingAndGlyphs">7017</text>
<rect class="l" x="1836.2" y="156" width="23.59" height="38"/><text transform="translate(1848,175) rotate(90)" y="6" textLength="31" lengthAdjust="spacingAndGlyphs">7011</text>
<rect class="l" x="1859.7" y="156" width="23.59" height="38"/><text transform="translate(1871.5,175) rotate(90)" y="6" textLength="31" lengthAdjust="spacingAndGlyphs">7007</text>
<rect class="l" x="1883.3" y="156" width="23.59" height="38"/><text transform="translate(1895.1,175) rotate(90)" y="6" textLength="31" lengthAdjust="spacingAndGlyphs">7003</text>

<rect class="l" x="1741.8" y="197" width="23.59" height="37.5"/><text transform="translate(1753.6,215.7) rotate(90)" y="6" textLength="31" lengthAdjust="spacingAndGlyphs">7042</text>
<rect class="l" x="1765.4" y="197" width="23.59" height="37.5"/><text transform="translate(1777.2,215.7) rotate(90)" y="6" textLength="31" lengthAdjust="spacingAndGlyphs">7036</text>
<rect class="l" x="1789" y="197" width="23.59" height="37.5"/><text transform="translate(1800.8,215.7) rotate(90)" y="6" textLength="31" lengthAdjust="spacingAndGlyphs">7030</text>
<rect class="l" x="1812.6" y="197" width="23.59" height="37.5"/><text transform="translate(1824.4,215.7) rotate(90)" y="6" textLength="31" lengthAdjust="spacingAndGlyphs">7024</text>
<rect class="l" x="1836.2" y="197" width="23.59" height="37.5"/><text transform="translate(1848,215.7) rotate(90)" y="6" textLength="31" lengthAdjust="spacingAndGlyphs">7018</text>
<rect class="l" x="1859.7" y="197" width="23.59" height="37.5"/><text transform="translate(1871.5,215.7) rotate(90)" y="6" textLength="31" lengthAdjust="spacingAndGlyphs">7012</text>
<rect class="l" x="1883.3" y="197" width="23.59" height="37.5"/><text transform="translate(1895.1,215.7) rotate(90)" y="6" textLength="31" lengthAdjust="spacingAndGlyphs">7006</text>

<rect class="l" x="1661.8" y="246" width="23.8" height="38"/><text transform="translate(1673.7,265) rotate(90)" y="6" textLength="31" lengthAdjust="spacingAndGlyphs">7054</text>
<rect class="l" x="1685.6" y="246" width="23.8" height="38"/><text transform="translate(1697.5,265) rotate(90)" y="6" textLength="31" lengthAdjust="spacingAndGlyphs">7050</text>
<rect class="l" x="1709.4" y="246" width="23.8" height="38"/><text transform="translate(1721.3,265) rotate(90)" y="6" textLength="31" lengthAdjust="spacingAndGlyphs">7046</text>
<rect class="l" x="1741.8" y="246" width="23.59" height="38"/><text transform="translate(1753.6,265) rotate(90)" y="6" textLength="31" lengthAdjust="spacingAndGlyphs">7040</text>
<rect class="l" x="1765.4" y="246" width="23.59" height="38"/><text transform="translate(1777.2,265) rotate(90)" y="6" textLength="31" lengthAdjust="spacingAndGlyphs">7034</text>
<rect class="l" x="1789" y="246" width="23.59" height="38"/><text transform="translate(1800.8,265) rotate(90)" y="6" textLength="31" lengthAdjust="spacingAndGlyphs">7028</text>
<rect class="l" x="1812.6" y="246" width="23.59" height="38"/><text transform="translate(1824.4,265) rotate(90)" y="6" textLength="31" lengthAdjust="spacingAndGlyphs">7022</text>
<rect class="l" x="1836.2" y="246" width="23.59" height="38"/><text transform="translate(1848,265) rotate(90)" y="6" textLength="31" lengthAdjust="spacingAndGlyphs">7016</text>
<rect class="l" x="1859.7" y="246" width="23.59" height="38"/><text transform="translate(1871.5,265) rotate(90)" y="6" textLength="31" lengthAdjust="spacingAndGlyphs">7010</text>
<rect class="l" x="1883.3" y="246" width="23.59" height="38"/><text transform="translate(1895.1,265) rotate(90)" y="6" textLength="31" lengthAdjust="spacingAndGlyphs">7004</text>

<rect class="g" x="1627.8" y="295" width="23.26" height="38"/><text transform="translate(1639.4,314) rotate(90)" y="6" textLength="31" lengthAdjust="spacingAndGlyphs">7058</text>
<rect class="g" x="1651.1" y="295" width="23.26" height="38"/><text transform="translate(1662.7,314) rotate(90)" y="6" textLength="31" lengthAdjust="spacingAndGlyphs">7056</text>
<rect class="g" x="1674.3" y="295" width="23.26" height="38"/><text transform="translate(1685.9,314) rotate(90)" y="6" textLength="31" lengthAdjust="spacingAndGlyphs">7052</text>
<rect class="g" x="1697.6" y="295" width="23.26" height="38"/><text transform="translate(1709.2,314) rotate(90)" y="6" textLength="31" lengthAdjust="spacingAndGlyphs">7048</text>
<rect class="g" x="1720.8" y="295" width="23.26" height="38"/><text transform="translate(1732.4,314) rotate(90)" y="6" textLength="31" lengthAdjust="spacingAndGlyphs">7044</text>
<rect class="g" x="1744.1" y="295" width="23.26" height="38"/><text transform="translate(1755.7,314) rotate(90)" y="6" textLength="31" lengthAdjust="spacingAndGlyphs">7038</text>
<rect class="g" x="1767.4" y="295" width="23.26" height="38"/><text transform="translate(1779,314) rotate(90)" y="6" textLength="31" lengthAdjust="spacingAndGlyphs">7032</text>
<rect class="g" x="1790.6" y="295" width="23.26" height="38"/><text transform="translate(1802.2,314) rotate(90)" y="6" textLength="31" lengthAdjust="spacingAndGlyphs">7026</text>
<rect class="g" x="1813.9" y="295" width="23.26" height="38"/><text transform="translate(1825.5,314) rotate(90)" y="6" textLength="31" lengthAdjust="spacingAndGlyphs">7020</text>
<rect class="g" x="1837.1" y="295" width="23.26" height="38"/><text transform="translate(1848.7,314) rotate(90)" y="6" textLength="31" lengthAdjust="spacingAndGlyphs">7014</text>
<rect class="g" x="1860.4" y="295" width="23.26" height="38"/><text transform="translate(1872,314) rotate(90)" y="6" textLength="31" lengthAdjust="spacingAndGlyphs">7008</text>
<rect class="l" x="1883.7" y="295" width="23.26" height="38"/><text transform="translate(1895.3,314) rotate(90)" y="6" textLength="31" lengthAdjust="spacingAndGlyphs">7002</text>
</g>
</svg>
</body></html>
